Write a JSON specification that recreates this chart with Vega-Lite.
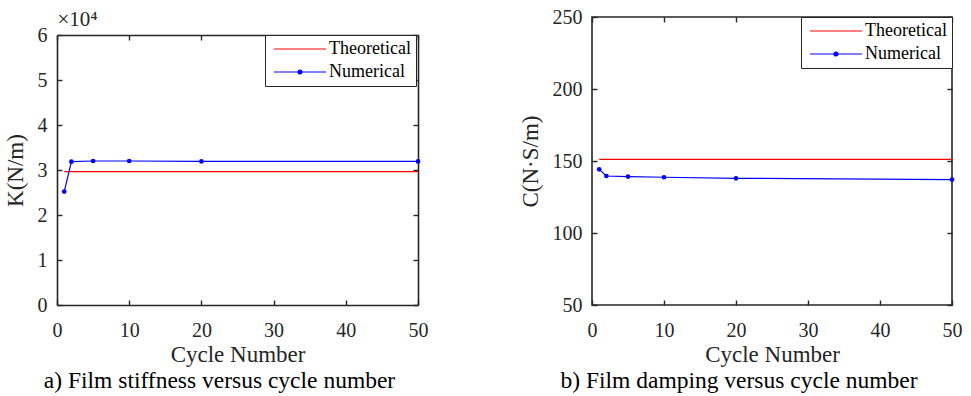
{
  "$schema": "https://vega.github.io/schema/vega-lite/v6.json",
  "background": "white",
  "padding": {"left": 4, "top": 6, "right": 5, "bottom": 5},
  "datasets": {
    "stiff": [
      {"cycle": 1, "value": 29650, "series": "Theoretical"},
      {"cycle": 50, "value": 29650, "series": "Theoretical"},
      {"cycle": 1, "value": 25200, "series": "Numerical"},
      {"cycle": 2, "value": 31850, "series": "Numerical"},
      {"cycle": 5, "value": 32000, "series": "Numerical"},
      {"cycle": 10, "value": 32000, "series": "Numerical"},
      {"cycle": 20, "value": 31900, "series": "Numerical"},
      {"cycle": 50, "value": 31900, "series": "Numerical"}
    ],
    "damp": [
      {"cycle": 1, "value": 151.1, "series": "Theoretical"},
      {"cycle": 50, "value": 151.1, "series": "Theoretical"},
      {"cycle": 1, "value": 144.2, "series": "Numerical"},
      {"cycle": 2, "value": 139.6, "series": "Numerical"},
      {"cycle": 5, "value": 139.2, "series": "Numerical"},
      {"cycle": 10, "value": 138.7, "series": "Numerical"},
      {"cycle": 20, "value": 138.0, "series": "Numerical"},
      {"cycle": 50, "value": 137.1, "series": "Numerical"}
    ]
  },
  "config": {
    "font": "Liberation Serif",
    "view": {"stroke": "#262626", "strokeWidth": 1.6},
    "scale": {"continuousPadding": 0},
    "axis": {
      "grid": false,
      "domain": false,
      "domainColor": "#262626",
      "domainWidth": 1.6,
      "labelFlush": false,
      "tickSize": -5,
      "tickColor": "#262626",
      "tickWidth": 1.4,
      "labelFont": "Liberation Serif",
      "labelFontSize": 20,
      "labelColor": "#262626",
      "labelPadding": 20,
      "titleFont": "Liberation Serif",
      "titleFontSize": 23,
      "titleFontWeight": "normal",
      "titleColor": "#262626"
    },
    "legend": {
      "orient": "top-right",
      "offset": 0,
      "strokeColor": "#262626",
      "fillColor": "white",
      "padding": 5,
      "labelFont": "Liberation Serif",
      "labelFontSize": 18,
      "labelColor": "black",
      "symbolSize": 100,
      "symbolStrokeWidth": 1.2,
      "symbolOpacity": 1,
      "labelOffset": 41,
      "rowPadding": 5
    },
    "title": {"font": "Liberation Serif", "fontWeight": "normal", "color": "black", "fontSize": 23.5}
  },
  "hconcat": [
    {
      "width": 361,
      "height": 288,
      "view": {"stroke": null},
      "title": {"text": "a) Film stiffness versus cycle number", "orient": "bottom", "anchor": "middle", "dx": -18, "offset": 3},
      "data": {"name": "stiff"},
      "layer": [
        {
          "mark": {"type": "point", "filled": false, "opacity": 0, "strokeWidth": 1.2},
          "encoding": {
            "x": {"field": "cycle", "type": "quantitative", "scale": {"domain": [0, 50], "nice": false, "zero": false, "padding": 0},
                  "axis": {"orient": "top", "offset": -18, "domain": true, "values": [0, 10, 20, 30, 40, 50], "labels": false, "title": "×10⁴", "titleAnchor": "start", "titleAlign": "left", "titleFontSize": 21, "titlePadding": 5}},
            "y": {"field": "value", "type": "quantitative", "scale": {"domain": [0, 60000], "range": [288, 18], "nice": false, "zero": false, "padding": 0},
                  "axis": {"orient": "right", "domain": true, "values": [0, 10000, 20000, 30000, 40000, 50000, 60000], "labels": false, "title": null}},
            "color": {"field": "series", "type": "nominal", "scale": {"domain": ["Theoretical", "Numerical"], "range": ["#ff0000", "#0000ff"]},
                      "legend": {"title": null, "symbolOpacity": 1, "orient": "none", "legendX": 208, "legendY": 18}},
            "shape": {"field": "series", "type": "nominal",
                      "scale": {"domain": ["Theoretical", "Numerical"], "range": ["M-1,0L9.4,0", "M-1,0L9.4,0M4.6,0A0.4,0.4,0,1,1,3.8,0A0.4,0.4,0,1,1,4.6,0ZM4.35,0A0.15,0.15,0,1,1,4.05,0A0.15,0.15,0,1,1,4.35,0Z"]},
                      "legend": {"title": null, "symbolOpacity": 1, "orient": "none", "legendX": 208, "legendY": 18}}
          }
        },
        {
          "mark": {"type": "line", "strokeWidth": 1.2},
          "encoding": {
            "x": {"field": "cycle", "type": "quantitative",
                  "axis": {"orient": "bottom", "domain": true, "values": [0, 10, 20, 30, 40, 50], "title": "Cycle Number", "titlePadding": 3}},
            "y": {"field": "value", "type": "quantitative",
                  "axis": {"orient": "left", "domain": true, "values": [0, 10000, 20000, 30000, 40000, 50000, 60000], "labelExpr": "datum.value/10000", "title": "K(N/m)", "titlePadding": 10, "labelPadding": 15}},
            "color": {"field": "series", "type": "nominal", "legend": null}
          }
        },
        {
          "transform": [{"filter": "datum.series === 'Numerical'"}],
          "mark": {"type": "point", "filled": true, "size": 22, "opacity": 1},
          "encoding": {
            "x": {"field": "cycle", "type": "quantitative", "axis": null},
            "y": {"field": "value", "type": "quantitative", "axis": null},
            "color": {"field": "series", "type": "nominal", "legend": null}
          }
        }
      ],
      "resolve": {"axis": {"x": "independent", "y": "independent"}}
    },
    {
      "width": 360,
      "height": 288,
      "title": {"text": "b) Film damping versus cycle number", "orient": "bottom", "anchor": "middle", "dx": -33, "offset": 3},
      "data": {"name": "damp"},
      "layer": [
        {
          "mark": {"type": "point", "filled": false, "opacity": 0, "strokeWidth": 1.2},
          "encoding": {
            "x": {"field": "cycle", "type": "quantitative", "scale": {"domain": [0, 50], "nice": false, "zero": false, "padding": 0},
                  "axis": {"orient": "top", "values": [0, 10, 20, 30, 40, 50], "labels": false, "title": null}},
            "y": {"field": "value", "type": "quantitative", "scale": {"domain": [50, 250], "nice": false, "zero": false, "padding": 0},
                  "axis": {"orient": "right", "values": [50, 100, 150, 200, 250], "labels": false, "title": null}},
            "color": {"field": "series", "type": "nominal", "scale": {"domain": ["Theoretical", "Numerical"], "range": ["#ff0000", "#0000ff"]},
                      "legend": {"title": null, "symbolOpacity": 1}},
            "shape": {"field": "series", "type": "nominal",
                      "scale": {"domain": ["Theoretical", "Numerical"], "range": ["M-1,0L9.4,0", "M-1,0L9.4,0M4.6,0A0.4,0.4,0,1,1,3.8,0A0.4,0.4,0,1,1,4.6,0ZM4.35,0A0.15,0.15,0,1,1,4.05,0A0.15,0.15,0,1,1,4.35,0Z"]},
                      "legend": {"title": null, "symbolOpacity": 1}}
          }
        },
        {
          "mark": {"type": "line", "strokeWidth": 1.2},
          "encoding": {
            "x": {"field": "cycle", "type": "quantitative",
                  "axis": {"orient": "bottom", "values": [0, 10, 20, 30, 40, 50], "title": "Cycle Number", "titlePadding": 3}},
            "y": {"field": "value", "type": "quantitative",
                  "axis": {"orient": "left", "values": [50, 100, 150, 200, 250], "title": "C(N·S/m)", "titlePadding": 10, "labelPadding": 15}},
            "color": {"field": "series", "type": "nominal", "legend": null}
          }
        },
        {
          "transform": [{"filter": "datum.series === 'Numerical'"}],
          "mark": {"type": "point", "filled": true, "size": 22, "opacity": 1},
          "encoding": {
            "x": {"field": "cycle", "type": "quantitative", "axis": null},
            "y": {"field": "value", "type": "quantitative", "axis": null},
            "color": {"field": "series", "type": "nominal", "legend": null}
          }
        }
      ],
      "resolve": {"axis": {"x": "independent", "y": "independent"}}
    }
  ],
  "spacing": 74,
  "resolve": {"scale": {"color": "independent", "shape": "independent"}, "legend": {"color": "independent", "shape": "independent"}}
}
